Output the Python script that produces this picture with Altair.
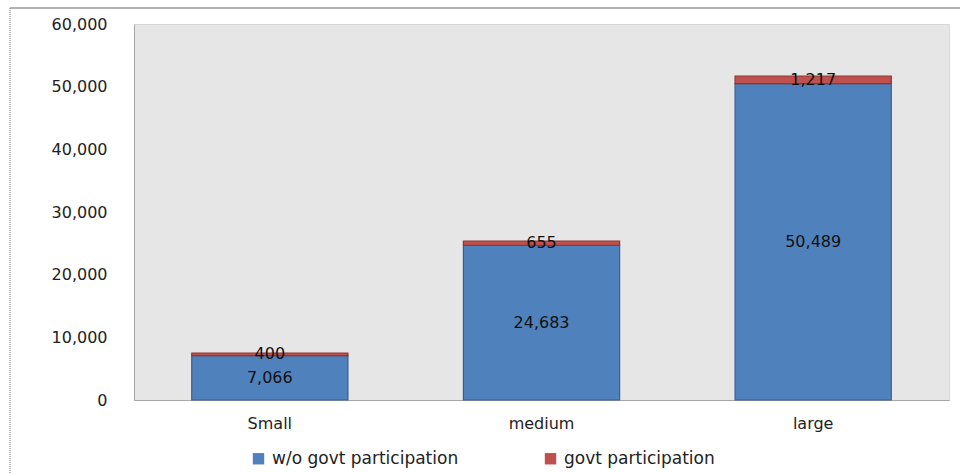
import altair as alt
import pandas as pd

# Firm size categories and the two stacked components
categories = ["Small", "medium", "large"]
wo_govt = [7066, 24683, 50489]
govt = [400, 655, 1217]
series = ["w/o govt participation", "govt participation"]
colors = ["#4f81bd", "#c0504d"]
strokes = ["#3a5f8b", "#8c3836"]
y_ticks = [0, 10000, 20000, 30000, 40000, 50000, 60000]

rows = []
for cat, a, b in zip(categories, wo_govt, govt):
    rows.append({"size": cat, "series": series[0], "value": a, "rank": 0})
    rows.append({"size": cat, "series": series[1], "value": b, "rank": 1})
df = pd.DataFrame(rows)

FONT = "DejaVu Sans"
FS = 16

base = alt.Chart(df).transform_stack(
    stack="value", as_=["v0", "v1"], groupby=["size"],
    sort=[alt.SortField("rank", order="ascending")]
).transform_calculate(
    mid="(datum.v0 + datum.v1) / 2"
)

x_scale = alt.Scale(paddingInner=0.425, paddingOuter=0.2125)
y_scale = alt.Scale(domain=[0, 60000], nice=False)
x_axis = alt.Axis(labelAngle=0, ticks=False, domainColor="#a6a6a6",
                  labelFont=FONT, labelFontSize=FS, labelColor="#222",
                  labelPadding=15)
y_axis = alt.Axis(values=y_ticks, format=",.0f",
                  ticks=False, grid=False, domainColor="#a6a6a6",
                  labelFont=FONT, labelFontSize=FS, labelColor="#222",
                  labelPadding=27)

bars = base.mark_bar(strokeWidth=1.2).encode(
    x=alt.X("size:N", sort=categories, title=None, scale=x_scale, axis=x_axis),
    y=alt.Y("v0:Q", title=None, scale=y_scale, axis=y_axis),
    y2="v1:Q",
    color=alt.Color("series:N", sort=series,
                    scale=alt.Scale(domain=series, range=colors),
                    legend=alt.Legend(orient="none", legendX=116, legendY=426,
                                      direction="horizontal", title=None,
                                      symbolType="square", symbolSize=130,
                                      symbolStrokeWidth=0, labelLimit=400,
                                      labelFont=FONT, labelFontSize=17,
                                      labelColor="#222", columnPadding=83,
                                      labelOffset=5)),
    stroke=alt.Stroke("series:N", scale=alt.Scale(domain=series, range=strokes),
                      legend=None),
)

labels = base.mark_text(font=FONT, fontSize=FS, color="#111", baseline="middle").encode(
    x=alt.X("size:N", sort=categories, title=None, scale=x_scale, axis=x_axis),
    y=alt.Y("mid:Q", title=None, scale=y_scale, axis=y_axis),
    text=alt.Text("value:Q", format=","),
)

frame = alt.Chart(alt.Data(values=[{"k": 1}]))
top_line = frame.mark_rule(color="#9a9a9a", strokeWidth=1.5).encode(
    x=alt.value(-124), x2=alt.value(826), y=alt.value(-16)
)
left_line = frame.mark_rule(color="#9a9a9a", strokeWidth=1.5, strokeDash=[1, 1]).encode(
    x=alt.value(-124), y=alt.value(-16), y2=alt.value(449)
)

chart = alt.layer(bars, labels, top_line, left_line).properties(
    width=815, height=376,
    autosize=alt.AutoSizeParams(type="none"),
    padding={"left": 134, "top": 24, "right": 17, "bottom": 73},
    background="white",
).configure_view(
    fill="#e6e6e6", stroke="#d8d8d8", strokeWidth=1
)

chart.save("out.html", embed_options={"renderer": "svg", "actions": False})
